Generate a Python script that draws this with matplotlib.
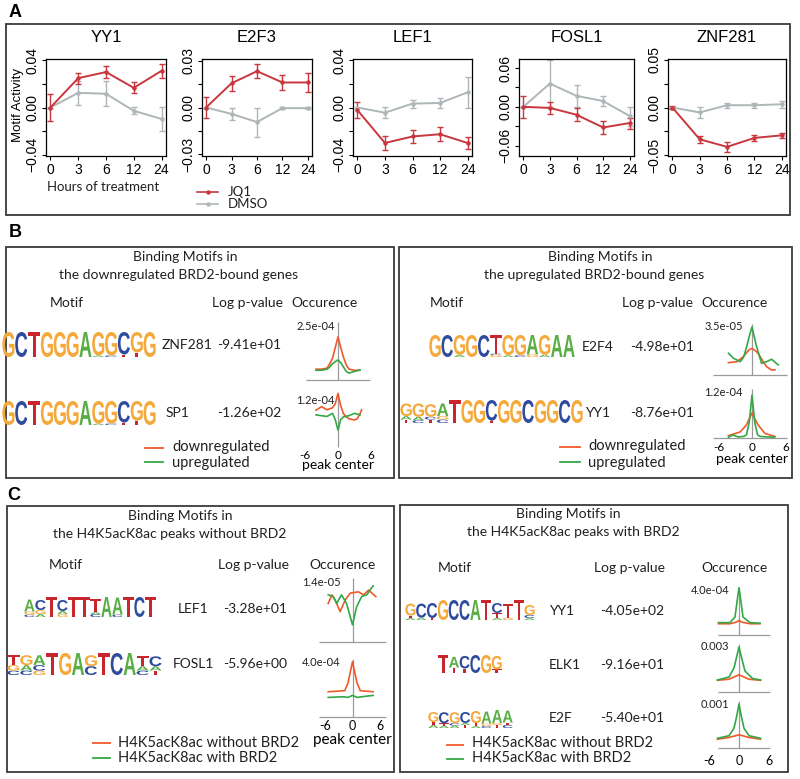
#!/usr/bin/env python3
"""Motif activity time courses (A) and binding-motif summaries (B, C)."""

import matplotlib

matplotlib.use("Agg")

import matplotlib.pyplot as plt
from matplotlib.font_manager import FontProperties
from matplotlib.patches import PathPatch, Rectangle
from matplotlib.textpath import TextPath
from matplotlib.transforms import Affine2D

W, H = 800, 779
SANS = ["Lato", "DejaVu Sans"]
ARIAL = ["Liberation Sans", "DejaVu Sans"]
plt.rcParams["font.family"] = SANS

RED = "#C8373E"
GRAY = "#AEB6B8"
DOWN_COLOR = "#F0592A"
UP_COLOR = "#33A846"
AXIS_GRAY = "#9A9A9A"
LETTER_COLORS = {"A": "#5BAE46", "C": "#2E4B9E", "G": "#F4A93A", "T": "#C9252C"}

# ---------------- panel A: motif activity over time ----------------
HOURS = ["0", "3", "6", "12", "24"]

YY1_JQ1 = [0.0, 0.0248, 0.030, 0.0166, 0.031]
YY1_JQ1_ERR = [0.011, 0.0047, 0.0047, 0.0046, 0.006]
YY1_DMSO = [0.0, 0.0124, 0.0116, -0.0028, -0.0097]
YY1_DMSO_ERR = [0.0, 0.0100, 0.0105, 0.003, 0.0103]

E2F3_JQ1 = [0.0, 0.0155, 0.0232, 0.016, 0.016]
E2F3_JQ1_ERR = [0.0068, 0.0047, 0.0043, 0.0049, 0.0062]
E2F3_DMSO = [0.0, -0.0041, -0.0093, -0.0004, -0.0004]
E2F3_DMSO_ERR = [0.0, 0.0037, 0.0093, 0.0005, 0.0005]

LEF1_JQ1 = [-0.0022, -0.030, -0.0245, -0.0226, -0.030]
LEF1_JQ1_ERR = [0.0068, 0.0057, 0.0058, 0.0057, 0.0054]
LEF1_DMSO = [0.0, -0.0044, 0.0033, 0.0038, 0.0128]
LEF1_DMSO_ERR = [0.0, 0.0045, 0.0034, 0.0041, 0.0128]

FOSL1_JQ1 = [0.0, -0.0016, -0.0122, -0.0319, -0.025]
FOSL1_JQ1_ERR = [0.0175, 0.009, 0.0104, 0.0096, 0.0085]
FOSL1_DMSO = [0.0, 0.036, 0.017, 0.009, -0.0143]
FOSL1_DMSO_ERR = [0.0, 0.036, 0.0173, 0.008, 0.0146]

ZNF281_JQ1 = [0.0, -0.0334, -0.0414, -0.032, -0.0293]
ZNF281_JQ1_ERR = [0.0015, 0.0035, 0.005, 0.0028, 0.0028]
ZNF281_DMSO = [0.0, -0.0052, 0.0024, 0.0024, 0.0034]
ZNF281_DMSO_ERR = [0.0, 0.0055, 0.0028, 0.0025, 0.0034]

# ---------------- panels B, C: occurrence around peak center ----------------
# B left (units 1e-4)
ZNF281_OCC_X = [-4, -3, -2, -1.5, -1, -0.5, 0, 0.5, 1, 1.5, 2, 3, 4]
ZNF281_OCC_DOWN = [0.50, 0.50, 0.55, 0.75, 1.0, 1.5, 2.0, 1.5, 1.05, 0.7, 0.5, 0.45, 0.45]
ZNF281_OCC_UP = [0.45, 0.45, 0.5, 0.6, 0.75, 0.85, 0.93, 0.8, 0.6, 0.4, 0.32, 0.4, 0.46]
SP1_DOWN_X = [-4, -3, -2, -1, -0.5, 0, 0.5, 1, 1.5, 2, 3, 3.5, 4, 4.3]
SP1_OCC_DOWN = [0.94, 1.03, 0.95, 1.0, 1.1, 1.37, 1.05, 0.85, 0.77, 0.72, 0.69, 0.72, 0.85, 0.95]
SP1_UP_X = [-4, -3, -2, -1, -0.5, 0, 0.5, 1, 2, 3, 4]
SP1_OCC_UP = [0.82, 0.8, 0.78, 0.86, 0.7, 0.43, 0.7, 0.77, 0.8, 0.86, 0.82]
# B right (E2F4 in 1e-5, YY1 in 1e-4)
E2F4_UP_X = [-4.2, -3.3, -2.1, -1.5, -0.95, -0.5, 0, 0.4, 0.83, 1.7, 2.6, 3.5, 4.2, 4.7]
E2F4_OCC_UP = [1.58, 1.22, 0.97, 1.3, 2.06, 2.8, 3.5, 2.8, 2.06, 0.85, 0.97, 1.15, 0.9, 0.73]
E2F4_DOWN_X = [-4.2, -2.7, -1.55, -0.5, 0, 0.5, 1.1, 2.0, 2.6, 3.5, 4.1]
E2F4_OCC_DOWN = [0.9, 0.97, 1.34, 1.85, 1.94, 1.8, 1.58, 0.97, 0.61, 0.36, 0.38]
YY1B_UP_X = [-4.2, -3.4, -2.5, -1.5, -1, -0.5, 0, 0.5, 1, 1.5, 2.5, 4]
YY1B_OCC_UP = [0.02, 0.08, 0.03, 0.04, 0.08, 0.4, 1.12, 0.4, 0.08, 0.04, 0.03, 0.02]
YY1B_DOWN_X = [-4.2, -2.1, -1, -0.5, 0, 0.5, 1.1, 2.3, 4.1]
YY1B_OCC_DOWN = [0.06, 0.16, 0.34, 0.5, 0.65, 0.5, 0.34, 0.12, 0.04]
# C left (LEF1 in 1e-5, FOSL1 in 1e-4)
LEF1_NO_X = [-5.3, -4.5, -3.8, -2.7, -1.6, -0.5, 1.3, 2.4, 3.5, 5.1]
LEF1_OCC_NO = [0.9, 1.1, 0.98, 0.71, 0.98, 1.14, 1.17, 1.1, 1.21, 1.06]
LEF1_WITH_X = [-5.3, -4.2, -3.45, -2.4, -1.3, 0, 0.9, 2.0, 3.1, 4.5]
LEF1_OCC_WITH = [1.1, 1.06, 0.9, 1.1, 0.9, 0.4, 0.82, 1.06, 1.1, 1.31]
FOSL1_NO_X = [-5.3, -1.7, -1, -0.5, 0, 0.5, 1, 1.7, 4.5]
FOSL1_OCC_NO = [1.87, 1.95, 2.5, 3.3, 4.1, 3.3, 2.5, 1.95, 1.87]
FOSL1_WITH_X = [-5.3, -2, -1, 0, 1, 2, 4.5]
FOSL1_OCC_WITH = [1.45, 1.5, 1.45, 1.6, 1.45, 1.5, 1.6]
# C right (YY1 in 1e-4, ELK1 and E2F in 1e-3)
YY1C_WITH_X = [-4.1, -1.8, -0.8, -0.35, 0, 0.35, 0.8, 2.2, 4.2]
YY1C_OCC_WITH = [1.1, 1.1, 1.6, 3.1, 4.2, 3.1, 1.6, 1.1, 1.05]
YY1C_NO_X = [-4.1, -1.8, -0.5, 0, 0.5, 2.2, 4.2]
YY1C_OCC_NO = [1.0, 1.0, 1.15, 1.3, 1.15, 1.0, 1.0]
ELK1_WITH_X = [-4.3, -2, -1, -0.5, 0, 0.5, 1.2, 2.7, 4.3]
ELK1_OCC_WITH = [0.8, 1.0, 1.6, 2.3, 3.0, 2.3, 1.4, 0.9, 0.8]
ELK1_NO_X = [-4.3, -2, -1, 0, 1, 2, 4.3]
ELK1_OCC_NO = [0.78, 0.85, 1.0, 1.15, 1.0, 0.85, 0.78]
E2F_WITH_X = [-4.3, -2, -1, -0.5, 0, 0.5, 1, 2, 4.3]
E2F_OCC_WITH = [0.22, 0.28, 0.45, 0.7, 1.0, 0.7, 0.45, 0.28, 0.22]
E2F_NO_X = [-4.3, -2, 0, 2, 4.3]
E2F_OCC_NO = [0.2, 0.24, 0.3, 0.24, 0.2]

# sequence logos: columns bottom-to-top, "letter:height" (height as fraction)
LOGO_ZNF281 = "G C T G G G A A:.06,G:.94 C:.06,G:.94 T:.1,C:.9 T:.18,G:.82 G"
LOGO_E2F4 = ("G C A:.1,G:.9 G C G:.1,C:.05,T:.85 A:.08,G:.92 C:.08,G:.92 "
             "G:.12,A:.88 A:.1,G:.9 A A")
LOGO_YY1_B = ("T:.15,A:.15,G:.55 C:.12,A:.15,G:.58 T:.15,C:.12,G:.55 "
              "C:.15,G:.15,A:.55 T G G T:.1,C:.9 G G C G G C G")
LOGO_LEF1 = ("C:.12,G:.15,A:.6 A:.15,G:.2,C:.5 T G:.15,A:.15,C:.55 T T "
             "C:.15,A:.1,T:.65 A C:.12,A:.85 T C T")
LOGO_FOSL1 = ("C:.2,G:.25,T:.45 C:.2,A:.25,G:.45 G:.2,C:.25,A:.45 T G A C:.4,G:.5 "
              "T C A C:.2,A:.2,T:.45 T:.2,A:.2,C:.45")
LOGO_YY1_C = ("A:.1,T:.12,G:.6 A:.12,C:.7 T:.1,C:.75 G C C A T "
              "A:.1,T:.25,C:.5 G:.12,T:.7 T A:.1,C:.15,G:.5")
LOGO_ELK1 = "T T:.3,A:.6 T:.25,C:.7 C G T:.2,G:.75"
LOGO_E2F = ("A:.15,T:.15,G:.5 A:.12,T:.12,C:.55 A:.12,C:.12,G:.55 T:.15,A:.1,C:.55 "
            "A:.1,T:.15,G:.6 C:.1,G:.12,A:.6 T:.15,G:.1,A:.65 C:.15,T:.12,A:.6")

TITLE_SIZE = 10
BODY_SIZE = 10
LEGEND_SIZE = 10.5


def px_rect(x0, y0, x1, y1):
    return [x0 / W, 1 - y1 / H, (x1 - x0) / W, (y1 - y0) / H]


fig = plt.figure(figsize=(W / 100, H / 100), dpi=100)
canvas = fig.add_axes([0, 0, 1, 1])
canvas.set_xlim(0, W)
canvas.set_ylim(H, 0)
canvas.axis("off")


def box(x0, y0, x1, y1):
    canvas.add_patch(Rectangle((x0, y0), x1 - x0, y1 - y0, fill=False,
                               ec="#3a3a3a", lw=1.3))


def label(x, y, s, size=BODY_SIZE, ha="center", **kw):
    canvas.text(x, y, s, ha=ha, va="center", fontsize=size, color="#231F20", **kw)


# ---------------- panel A ----------------
canvas.text(15, 12, "A", ha="center", va="center", fontsize=13,
            fontweight="bold", family=ARIAL)
box(6, 24, 790, 215)

A_PANELS = [
    ("YY1", YY1_JQ1, YY1_JQ1_ERR, YY1_DMSO, YY1_DMSO_ERR, (46, 166),
     (-0.041, 0.041), [-0.04, -0.02, 0, 0.02, 0.04], ["\u22120.04", "", "0.00", "", "0.04"]),
    ("E2F3", E2F3_JQ1, E2F3_JQ1_ERR, E2F3_DMSO, E2F3_DMSO_ERR, (202, 312),
     (-0.031, 0.031), [-0.03, -0.015, 0, 0.015, 0.03], ["\u22120.03", "", "0.00", "", "0.03"]),
    ("LEF1", LEF1_JQ1, LEF1_JQ1_ERR, LEF1_DMSO, LEF1_DMSO_ERR, (353, 472),
     (-0.041, 0.041), [-0.04, -0.02, 0, 0.02, 0.04], ["\u22120.04", "", "0.00", "", "0.04"]),
    ("FOSL1", FOSL1_JQ1, FOSL1_JQ1_ERR, FOSL1_DMSO, FOSL1_DMSO_ERR, (519, 634),
     (-0.076, 0.074), [-0.06, -0.03, 0, 0.03, 0.06], ["\u22120.06", "", "0.00", "", "0.06"]),
    ("ZNF281", ZNF281_JQ1, ZNF281_JQ1_ERR, ZNF281_DMSO, ZNF281_DMSO_ERR, (668, 786),
     (-0.051, 0.051), [-0.05, -0.025, 0, 0.025, 0.05], ["\u22120.05", "", "0.00", "", "0.05"]),
]

xs = list(range(1, len(HOURS) + 1))
for name, jq1, jq1_err, dmso, dmso_err, (x0, x1), ylim, yticks, ylabels in A_PANELS:
    ax = fig.add_axes(px_rect(x0, 59, x1, 156))
    for vals, errs, color in ((dmso, dmso_err, GRAY), (jq1, jq1_err, RED)):
        ax.errorbar(xs, vals, yerr=errs, color=color, lw=1.4, elinewidth=1.0,
                    capsize=2.2, capthick=1.0, marker="o", ms=2.2)
    ax.set_xlim(0.84, 5.16)
    ax.set_ylim(*ylim)
    ax.set_xticks(xs, HOURS)
    ax.set_yticks(yticks, ylabels)
    ax.tick_params(direction="out", length=3, width=0.8, labelsize=10, pad=2)
    for t in ax.get_yticklabels():
        t.set_rotation(90)
        t.set_va("center")
    for t in ax.get_xticklabels() + ax.get_yticklabels():
        t.set_family(ARIAL)
    for s in ax.spines.values():
        s.set_linewidth(0.9)
    ax.set_title(name, fontsize=12, pad=12, family=ARIAL)

canvas.text(18, 105, "Motif Activity", rotation=90, ha="center", va="center",
            fontsize=9.5, family=ARIAL)
label(47, 187, "Hours of treatment", size=9.5, ha="left")
for yy, color, text in ((192, RED, "JQ1"), (204, GRAY, "DMSO")):
    canvas.plot([197, 218], [yy, yy], color=color, lw=1.2)
    canvas.plot([207.5], [yy], marker="o", ms=2.2, color=color)
    label(228, yy, text, size=9.5, ha="left")


# ---------------- helpers for B, C ----------------
LETTER_FONT = FontProperties(family="Liberation Sans", weight="bold")


def parse_col(col):
    if ":" not in col:
        return [(col, 1.0)]
    out = []
    for part in col.split(","):
        letter, frac = part.split(":")
        out.append((letter, float(frac)))
    return out


def draw_logo(spec, x0, x1, y_bottom, height):
    cols = [parse_col(c) for c in spec.split()]
    cw = (x1 - x0) / len(cols)
    for i, col in enumerate(cols):
        y = y_bottom
        for letter, frac in col:
            h = frac * height
            path = TextPath((0, 0), letter, size=1, prop=LETTER_FONT)
            ext = path.get_extents()
            tr = (Affine2D().translate(-ext.x0, -ext.y0)
                  .scale(cw * 0.94 / ext.width, -h / ext.height)
                  .translate(x0 + i * cw + cw * 0.03, y))
            canvas.add_patch(PathPatch(tr.transform_path(path),
                                       fc=LETTER_COLORS[letter], ec="none", lw=0))
            y -= h


def occurrence(x_zero, ppu, y_base, y_top, top_value, top_text, text_dx,
               curves, base_span=None, ticks=None, xlabel=None):
    ax = fig.add_axes(px_rect(x_zero - 6 * ppu, y_top, x_zero + 6 * ppu, y_base))
    ax.set_xlim(-6, 6)
    ax.set_ylim(0, top_value)
    ax.patch.set_visible(False)
    for s in ax.spines.values():
        s.set_visible(False)
    ax.set_yticks([])
    ax.vlines(0, 0, top_value * 1.07, color=AXIS_GRAY, lw=0.9, clip_on=False)
    if base_span is not None:
        ax.hlines(0, base_span[0], base_span[1], color=AXIS_GRAY, lw=0.9, clip_on=False)
    for cx, cy, color in curves:
        ax.plot(cx, cy, color=color, lw=1.2, clip_on=False)
    ax.text(-text_dx, top_value, top_text, ha="right", va="center", fontsize=8,
            color="#231F20")
    if ticks is not None:
        ax.set_xticks([-6, 0, 6], ["-6", "0", "6"])
        ax.tick_params(axis="x", length=0, pad=ticks[0], labelsize=ticks[1])
    else:
        ax.set_xticks([])
    if xlabel is not None:
        ax.set_xlabel("peak center", fontsize=xlabel[1], labelpad=xlabel[0])
    return ax


# ---------------- panel B ----------------
canvas.text(15, 232, "B", ha="center", va="center", fontsize=13,
            fontweight="bold", family=ARIAL)
box(6, 247, 394, 478)
box(399, 247, 792, 478)

label(185, 257, "Binding Motifs in", size=TITLE_SIZE)
label(179, 275, "the downregulated BRD2-bound genes", size=TITLE_SIZE)
label(67, 303, "Motif")
label(247, 303, "Log p-value")
label(325, 303, "Occurence")
draw_logo(LOGO_ZNF281, 2, 156, 357, 25)
label(162, 345, "ZNF281", ha="left")
label(249, 345, "-9.41e+01")
draw_logo(LOGO_ZNF281, 2, 156, 425, 24)
label(166, 413, "SP1", ha="left")
label(249, 413, "-1.26e+02")
occurrence(338, 5.5, 380, 326, 2.5, "2.5e-04", 0.55,
           [(ZNF281_OCC_X, ZNF281_OCC_DOWN, DOWN_COLOR), (ZNF281_OCC_X, ZNF281_OCC_UP, UP_COLOR)],
           base_span=(-5.8, 5.8))
occurrence(338, 5.5, 447, 400, 1.2, "1.2e-04", 0.55,
           [(SP1_DOWN_X, SP1_OCC_DOWN, DOWN_COLOR), (SP1_UP_X, SP1_OCC_UP, UP_COLOR)],
           ticks=(2, 8.5), xlabel=(-1, 10))

label(600, 257, "Binding Motifs in", size=TITLE_SIZE)
label(594, 275, "the upregulated BRD2-bound genes", size=TITLE_SIZE)
label(447, 303, "Motif")
label(657, 303, "Log p-value")
label(734, 303, "Occurence")
draw_logo(LOGO_E2F4, 429, 575, 357, 22)
label(582, 347, "E2F4", ha="left")
label(662, 347, "-4.98e+01")
draw_logo(LOGO_YY1_B, 400, 583, 423, 23)
label(585, 413, "YY1", ha="left")
label(662, 413, "-8.76e+01")
occurrence(752, 5.6, 375, 327, 3.5, "3.5e-05", 1.6,
           [(E2F4_DOWN_X, E2F4_OCC_DOWN, DOWN_COLOR), (E2F4_UP_X, E2F4_OCC_UP, UP_COLOR)],
           base_span=(-7.0, 6.2))
occurrence(752, 5.6, 438, 392, 1.2, "1.2e-04", 1.6,
           [(YY1B_DOWN_X, YY1B_OCC_DOWN, DOWN_COLOR), (YY1B_UP_X, YY1B_OCC_UP, UP_COLOR)],
           base_span=(-7.0, 6.2), ticks=(3, 8.5), xlabel=(0, 10))

for (lx0, lx1, tx), (ya, yb) in (((145, 163, 172), (448, 462)),
                                 ((560, 580, 588), (447, 462))):
    canvas.plot([lx0, lx1], [ya, ya], color=DOWN_COLOR, lw=1.3)
    canvas.plot([lx0, lx1], [yb, yb], color=UP_COLOR, lw=1.3)
    label(tx, ya - 1, "downregulated", size=LEGEND_SIZE, ha="left")
    label(tx, yb + 1, "upregulated", size=LEGEND_SIZE, ha="left")

# ---------------- panel C ----------------
canvas.text(14, 495, "C", ha="center", va="center", fontsize=13,
            fontweight="bold", family=ARIAL)
box(7, 506, 394, 772)
box(400, 505, 788, 772)

label(180, 516, "Binding Motifs in", size=TITLE_SIZE)
label(170, 534, "the H4K5acK8ac peaks without BRD2", size=TITLE_SIZE)
label(66, 565, "Motif")
label(253, 565, "Log p-value")
label(343, 565, "Occurence")
draw_logo(LOGO_LEF1, 24, 156, 617, 20)
label(178, 609, "LEF1", ha="left")
label(255, 609, "-3.28e+01")
draw_logo(LOGO_FOSL1, 7, 162, 675, 22)
label(173, 664, "FOSL1", ha="left")
label(255, 664, "-5.96e+00")
occurrence(352.5, 4.58, 642, 582, 1.4, "1.4e-05", 2.6,
           [(LEF1_NO_X, LEF1_OCC_NO, DOWN_COLOR), (LEF1_WITH_X, LEF1_OCC_WITH, UP_COLOR)],
           base_span=(-7.4, 7.3))
occurrence(352.5, 4.58, 717, 663, 4.0, "4.0e-04", 2.6,
           [(FOSL1_NO_X, FOSL1_OCC_NO, DOWN_COLOR), (FOSL1_WITH_X, FOSL1_OCC_WITH, UP_COLOR)],
           base_span=(-7.4, 7.3), ticks=(2, 9), xlabel=(1, 11))

label(568, 514, "Binding Motifs in", size=TITLE_SIZE)
label(573, 532, "the H4K5acK8ac peaks with BRD2", size=TITLE_SIZE)
label(455, 568, "Motif")
label(629, 568, "Log p-value")
label(735, 568, "Occurence")
draw_logo(LOGO_YY1_C, 405, 535, 620, 20)
label(549, 611, "YY1", ha="left")
label(632, 611, "-4.05e+02")
draw_logo(LOGO_ELK1, 438, 502, 673, 18)
label(549, 665, "ELK1", ha="left")
label(632, 665, "-9.16e+01")
draw_logo(LOGO_E2F, 428, 513, 728, 20)
label(549, 718, "E2F", ha="left")
label(632, 718, "-5.40e+01")
occurrence(739, 5.0, 635, 590, 4.0, "4.0e-04", 2.0,
           [(YY1C_NO_X, YY1C_OCC_NO, DOWN_COLOR), (YY1C_WITH_X, YY1C_OCC_WITH, UP_COLOR)],
           base_span=(-4.2, 6.2))
occurrence(739, 5.0, 692, 647, 3.0, "0.003", 2.0,
           [(ELK1_NO_X, ELK1_OCC_NO, DOWN_COLOR), (ELK1_WITH_X, ELK1_OCC_WITH, UP_COLOR)],
           base_span=(-4.2, 6.2))
occurrence(739, 5.0, 748, 704, 1.0, "0.001", 2.0,
           [(E2F_NO_X, E2F_OCC_NO, DOWN_COLOR), (E2F_WITH_X, E2F_OCC_WITH, UP_COLOR)],
           base_span=(-4.2, 6.2), ticks=(5, 9))

for (lx0, lx1, tx), (ya, yb) in (((93, 110, 118), (743, 758)),
                                 ((447, 463, 472), (745, 759))):
    canvas.plot([lx0, lx1], [ya, ya], color=DOWN_COLOR, lw=1.3)
    canvas.plot([lx0, lx1], [yb, yb], color=UP_COLOR, lw=1.3)
    label(tx, 743, "H4K5acK8ac without BRD2", size=LEGEND_SIZE, ha="left")
    label(tx, 758, "H4K5acK8ac with BRD2", size=LEGEND_SIZE, ha="left")

fig.savefig("out.png", dpi=100)
